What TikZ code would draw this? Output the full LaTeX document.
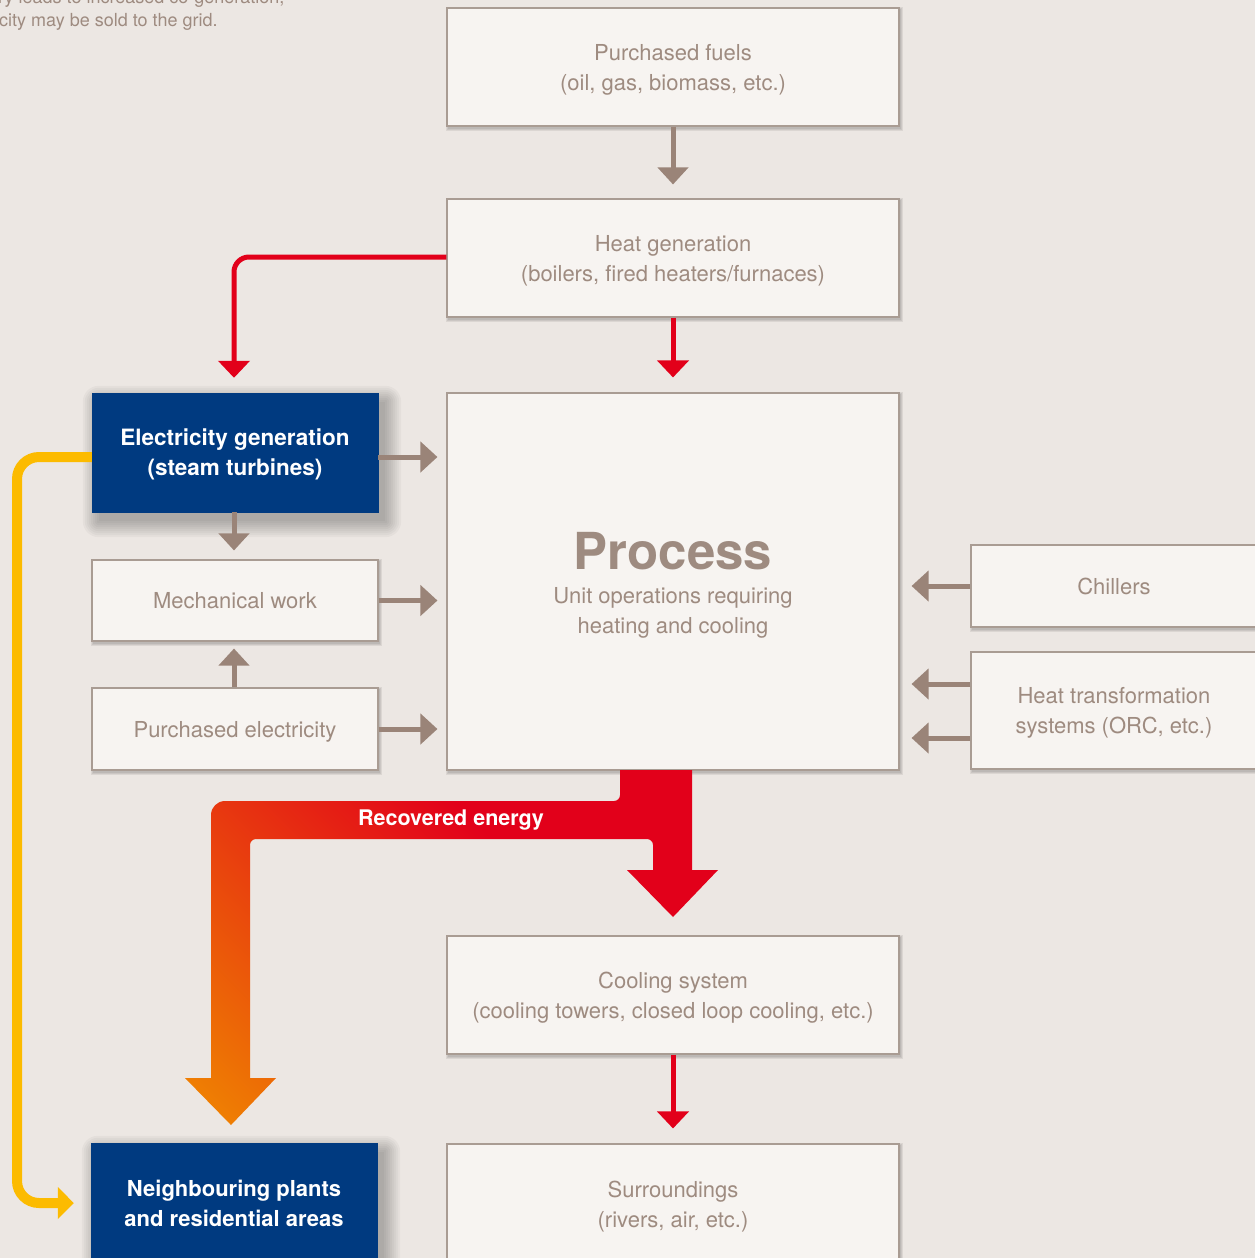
\documentclass[tikz,border=0pt]{standalone}
\usepackage{fontspec}
\setmainfont{TeX Gyre Heros}
\usetikzlibrary{arrows.meta,calc,backgrounds}
\definecolor{bg}{HTML}{ECE7E3}
\definecolor{boxfill}{HTML}{F7F4F1}
\definecolor{boxline}{HTML}{A99C93}
\definecolor{txt}{HTML}{9E8B80}
\definecolor{garrow}{HTML}{9A8478}
\definecolor{blueC}{HTML}{003A80}
\definecolor{redC}{HTML}{E2001A}
\definecolor{yellowC}{HTML}{FCBB00}
\definecolor{orangeC}{HTML}{F08A00}
\pgfdeclarehorizontalshading{recov}{100bp}{color(0bp)=(orangeC); color(14bp)=(orangeC); color(62bp)=(redC); color(100bp)=(redC)}
\newcommand\bigshade[1]{\foreach \s in {0,2,...,16} {\fill[black,opacity=0.03,rounded corners=\s pt] ($(#1.north west)+(7-\s,9-\s)$) rectangle ($(#1.south east)+(7+\s,9+\s)$);}}
\newcommand\smallshade[1]{\foreach \s in {0,1,2} {\fill[black,opacity=0.07] ($(#1.north west)+(1.5-\s,2-\s)$) rectangle ($(#1.south east)+(1.5+\s,2+\s)$);}}
\begin{document}
\begin{tikzpicture}[x=1pt,y=-1pt,
  lbl/.style={font=\fontsize{22}{30}\selectfont},
  box/.style={draw=boxline, line width=1.1pt, fill=boxfill, text=txt, align=center, inner sep=0pt, lbl, text depth=0pt},
  bluebox/.style={fill=blueC, draw=blueC, text=white, align=center, inner sep=0pt, text depth=0pt,
    font=\fontsize{22.5}{30}\selectfont\bfseries},
  wide/.style={minimum width=452pt},
  narrow/.style={minimum width=286pt},
  garr/.style={draw=garrow, line width=5pt, -{Triangle[width=30pt,length=17pt]}},
  rarr/.style={draw=redC, line width=5pt, -{Triangle[width=31pt,length=17pt]}},
  yarr/.style={draw=yellowC, line width=10pt, -{Triangle[width=31pt,length=16pt]}},
  note/.style={font=\fontsize{18}{20}\selectfont, text=txt, anchor=base west, inner sep=0pt}
]
\useasboundingbox (0,0) rectangle (1255,1258);

% top-left note (cut off, as in the source)
\node[note] (note1) at (-2,4) {ry leads to increased co-generation,};
\node[note] (note2) at (-1,27) {city may be sold to the grid.};

% boxes
\node[box, wide, minimum height=118pt] (fuels) at (673,67) {Purchased fuels\\(oil, gas, biomass, etc.)};
\node[box, wide, minimum height=118pt] (heatgen) at (673,258) {Heat generation\\(boilers, fired heaters/furnaces)};
\node[box, wide, minimum height=377pt] (process) at (673,581.5) {};
\node[text=txt, font=\fontsize{51}{51}\selectfont\bfseries, inner sep=0pt] (ptitle) at (673,551) {Process};
\node[text=txt, lbl, align=center, inner sep=0pt] (psub) at (673,613) {Unit operations requiring\\heating and cooling};
\node[bluebox, narrow, minimum height=119pt] (elec) at (235,452.5) {Electricity generation\\(steam turbines)};
\node[box, narrow, minimum height=81pt] (mech) at (235,600.5) {Mechanical work};
\node[box, narrow, minimum height=82pt] (pelec) at (235,729) {Purchased electricity};
\node[box, minimum width=286pt, minimum height=82pt] (chill) at (1114,586) {Chillers};
\node[box, minimum width=286pt, minimum height=117pt] (htrans) at (1114,710.5) {Heat transformation\\systems (ORC, etc.)};
\node[box, wide, minimum height=118pt] (cool) at (673,995) {Cooling system\\(cooling towers, closed loop cooling, etc.)};
\node[box, wide, minimum height=120pt] (surr) at (673,1204) {Surroundings\\(rivers, air, etc.)};
\node[bluebox, narrow, minimum height=120pt, font=\fontsize{22}{30}\selectfont\bfseries] (neigh) at (234,1203) {Neighbouring plants\\and residential areas};

\begin{scope}[on background layer]
  \fill[bg] (0,0) rectangle (1255,1258);
  \bigshade{elec}
  \bigshade{neigh}
  \foreach \n in {fuels,heatgen,process,mech,pelec,chill,htrans,cool,surr} {\smallshade{\n}}
\end{scope}

% grey arrows
\draw[garr, shorten >=14pt] (fuels.south) -- (heatgen.north);
\coordinate (e1) at ($(elec.east)+(0,4.5)$);
\draw[garr, shorten >=9pt] (e1) -- (e1 -| process.west);
\draw[garr, shorten >=9pt] (mech.east) -- (mech.east -| process.west);
\draw[garr, shorten >=9pt] (pelec.east) -- (pelec.east -| process.west);
\draw[garr, shorten >=9pt] ([xshift=-1pt]elec.south) -- ([xshift=-1pt]mech.north);
\draw[garr, shorten >=7pt] ([xshift=-1pt]pelec.north) -- ([xshift=-1pt]mech.south);
\draw[garr, shorten >=12pt] (chill.west) -- (chill.west -| process.east);
\coordinate (ht1) at ($(htrans.west)+(0,-26.5)$);
\coordinate (ht2) at ($(htrans.west)+(0,27.5)$);
\draw[garr, shorten >=12pt] (ht1) -- (ht1 -| process.east);
\draw[garr, shorten >=12pt] (ht2) -- (ht2 -| process.east);

% red arrows
\draw[rarr, shorten >=15pt] (heatgen.south) -- (process.north);
\draw[rarr, shorten >=15pt] (cool.south) -- (surr.north);
\draw[rarr, rounded corners=15pt, shorten >=15pt] ($(heatgen.west)+(0,-1)$) -| ([xshift=-1pt]elec.north);

% yellow arrow
\draw[yarr, rounded corners=22pt, shorten >=17pt] ($(elec.west)+(0,4.5)$) -- (17,457) -- (17,1203) -- (neigh.west);

% recovered energy arrow
\path[shading=recov, shading angle=45]
  (620,770) -- (692,770) -- (692,870) -- (718,870) -- (673,917) -- (627,870) -- (653,870)
  [rounded corners=6pt] -- (653,839) -- (250,839) [sharp corners] -- (250,1078) -- (276,1078) -- (231,1125) -- (185,1078) -- (211,1078)
  [rounded corners=14pt] -- (211,801) [rounded corners=6pt] -- (620,801) [sharp corners] -- cycle;
\node[text=white, font=\fontsize{21.5}{25}\selectfont\bfseries, inner sep=0pt] (recov) at (451,820) {Recovered energy};
\end{tikzpicture}
\end{document}
